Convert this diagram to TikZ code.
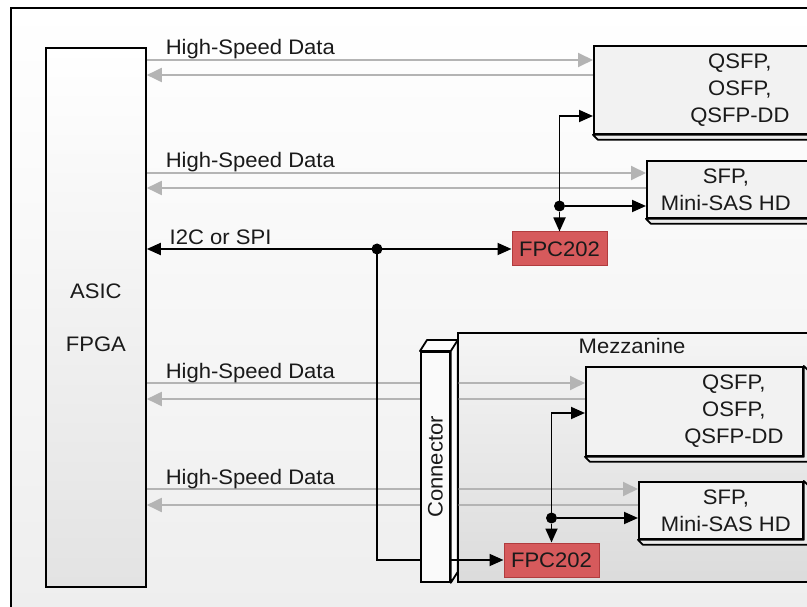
\documentclass[tikz,border=0pt]{standalone}
\usepackage{fontspec}
\setmainfont{Liberation Sans}[FakeStretch=1.05]
\usetikzlibrary{arrows.meta,calc,positioning}

\definecolor{hsgray}{HTML}{B4B4B4}
\definecolor{fpcred}{HTML}{D65A5C}
\definecolor{fpcedge}{HTML}{B03C3E}
\definecolor{inkgray}{HTML}{1A1A1A}

\begin{document}
\begin{tikzpicture}[
        x=1pt, y=-1pt,
        font=\fontsize{21}{27}\selectfont, text=inkgray,
        frame/.style={draw=black, line width=1.4pt, top color=white, bottom color=black!7},
        chip/.style={draw=black, line width=1.8pt, top color=white, bottom color=black!11, align=center, anchor=north west},
        board/.style={draw=black, line width=1.8pt, top color=black!4, bottom color=black!14, anchor=north west},
        slot/.style={draw=black, line width=1.8pt, fill=black!2, anchor=north west},
        port/.style={draw=black, line width=1.8pt, fill=black!5, anchor=north west},
        portlabel/.style={align=center, inner sep=0pt},
        depth/.style={draw=black, line width=1.8pt, fill=black!8, line join=round},
        fpc/.style={draw=fpcedge, line width=1pt, fill=fpcred, minimum width=95pt, minimum height=34pt},
        hs/.style={draw=hsgray, line width=1.9pt, >={Triangle[length=15pt,width=14pt]}, ->},
        ctl/.style={draw=black, line width=1.8pt, >={Triangle[length=14pt,width=12pt]}, ->},
        dot/.style={circle, fill=black, inner sep=0pt, minimum size=11pt},
        hslabel/.style={anchor=base west, inner sep=0pt, xshift=18pt, yshift=5pt}
      ]

      \useasboundingbox (0,0) rectangle (807,607);
      \path[frame] (11,8) rectangle (840,640);

      \node (ASIC) [chip, minimum width=100pt, minimum height=539pt] at (45,47) {ASIC\\[26pt]FPGA};
      \node (MEZZ) [board, minimum width=352pt, minimum height=249pt] at (457,332) {};
      \node (MZtag) [anchor=base, inner sep=0pt] at (632,353) {Mezzanine};

      \node (QSFPa) [port, minimum width=292pt, minimum height=88pt,
        label={[portlabel]center:{QSFP,\\OSFP,\\QSFP-DD}}] at (593,45) {};
      \node (SFPa) [port, minimum width=194pt, minimum height=57pt,
        label={[portlabel, xshift=-18pt]center:{SFP,\\Mini-SAS HD}}] at (646,160) {};
      \node (QSFPb) [port, minimum width=217pt, minimum height=89pt,
        label={[portlabel, xshift=39.5pt]center:{QSFP,\\OSFP,\\QSFP-DD}}] at (585,366) {};
      \node (SFPb) [port, minimum width=164pt, minimum height=57pt,
        label={[portlabel, xshift=5pt]center:{SFP,\\Mini-SAS HD}}] at (638,481) {};

      \foreach \n in {QSFPa,SFPa,QSFPb,SFPb}
        \draw[depth] (\n.south west) -- ++(5,5) -- ($(\n.south east)+(5,5)$) -- ($(\n.north east)+(5,5)$)
          -- (\n.north east) -- (\n.south east) -- cycle;

      \foreach \fy/\by/\dst in {60/75/QSFPa, 173/188/SFPa, 383/399/QSFPb, 489/505/SFPb} {
        \draw[hs] (ASIC.east |- 0,\fy) -- node[hslabel, at start] {High-Speed Data} (\dst.west |- 0,\fy);
        \draw[hs] (\dst.west |- 0,\by) -- (ASIC.east |- 0,\by);
      }

      \node (CONN) [slot, minimum width=29pt, minimum height=230pt,
        label={[rotate=90]center:Connector}] at (420,351) {};
      \draw[depth, fill=black!1] (CONN.north west) -- ++(7,-11) -- ($(CONN.north east)+(7,-11)$)
        -- ($(CONN.south east)+(7,-11)$) -- (CONN.south east) -- (CONN.north east) -- cycle;
      \draw[depth] (CONN.north east) -- ++(7,-11);

      \node (FPCa) [fpc] at (559.5,249) {FPC202};
      \node (FPCb) [fpc] at (551.5,560) {FPC202};

      \node (TAPa) [dot] at (377,249) {};
      \node (TAPb) [dot] at (FPCa.north |- 0,206) {};
      \node (TAPc) [dot] at (FPCb.north |- 0,518) {};

      \draw[ctl, <->] (ASIC.east |- TAPa) -- node[at start, anchor=base west, inner sep=0pt, xshift=22pt, yshift=4pt] {I2C or SPI} (FPCa.west);
      \draw[ctl, -] (TAPa.center) |- (CONN.west |- FPCb.west);
      \draw[ctl] (CONN.east |- FPCb.west) -- (FPCb.west);

      \draw[ctl] (TAPb) -- (FPCa.north);
      \draw[ctl] (TAPb.center) |- (QSFPa.west |- 0,116);
      \draw[ctl] (TAPb) -- (SFPa.west |- TAPb);

      \draw[ctl] (TAPc) -- (FPCb.north);
      \draw[ctl] (TAPc.center) |- (QSFPb.west |- 0,413);
      \draw[ctl] (TAPc) -- (SFPb.west |- TAPc);

    \end{tikzpicture}
\end{document}
